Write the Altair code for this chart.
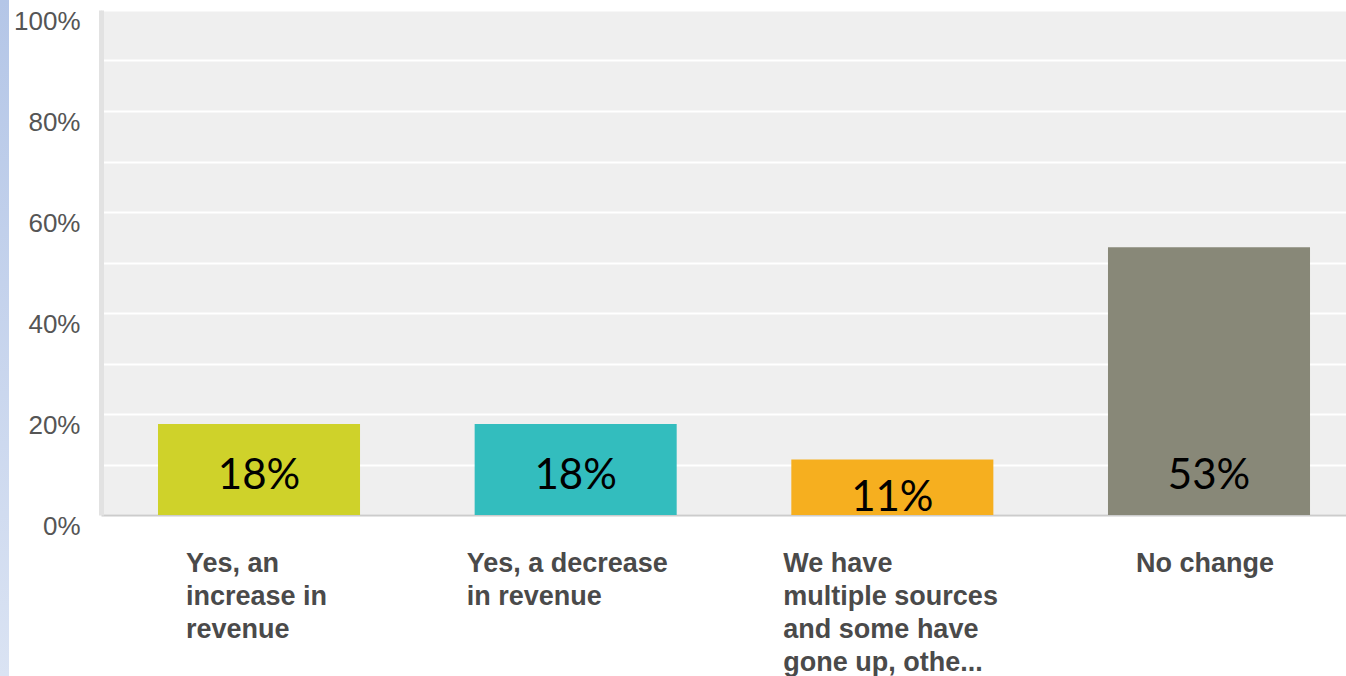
import altair as alt
import pandas as pd

categories = [
    "Yes, an increase in revenue",
    "Yes, a decrease in revenue",
    "We have multiple sources and some have gone up, othe...",
    "No change",
]
label_lines = [
    ["Yes, an", "increase in", "revenue"],
    ["Yes, a decrease", "in revenue"],
    ["We have", "multiple sources", "and some have", "gone up, othe..."],
    ["No change"],
]
values = [18, 18, 11, 53]
value_labels = ["18%", "18%", "11%", "53%"]
colors = ["#CFD22A", "#33BDBE", "#F6AF1F", "#888878"]

df = pd.DataFrame({"cat": categories, "val": values, "lab": value_labels})

W, H = 1245, 505

mapping = "{" + ",".join(
    "'" + c.replace("'", "\\'") + "':[" + ",".join("'" + l + "'" for l in ls) + "]"
    for c, ls in zip(categories, label_lines)
) + "}"
label_expr = f"{mapping}[datum.label]"

wide = [categories[1], categories[2]]
wide_test = "indexof([" + ",".join("'" + c + "'" for c in wide) + "], datum.value) >= 0"

x_enc = alt.X(
    "cat:N",
    sort=categories,
    title=None,
    scale=alt.Scale(paddingInner=0.362, paddingOuter=0.1468, align=0.613),
    axis=alt.Axis(
        labelExpr=label_expr,
        labelAngle=0,
        labelAlign="left",
        labelBaseline="top",
        labelOffset={"condition": {"test": wide_test, "value": -109}, "value": -73},
        labelPadding=35,
        labelLineHeight=33,
        labelFont="Liberation Sans",
        labelFontSize=27,
        labelFontWeight="bold",
        labelColor="#4a4a4a",
        labelLimit=500,
        labelOverlap=False,
        ticks=False,
        domainColor="#cccccc",
        domainWidth=2,
        grid=False,
    ),
)

y_enc = alt.Y(
    "val:Q",
    title=None,
    scale=alt.Scale(domain=[0, 100], nice=False),
    axis=alt.Axis(
        values=list(range(0, 101, 10)),
        labelExpr="datum.value % 20 == 0 ? datum.value + '%' : ''",
        labelFont="Liberation Sans",
        labelFontSize=26,
        labelColor="#555555",
        labelPadding=21,
        labelOffset=11,
        ticks=False,
        domainColor="#e2e2e2",
        domainWidth=5,
        gridColor="#ffffff",
        gridWidth=2,
    ),
)

bars = alt.Chart(df).mark_bar().encode(
    x=x_enc,
    y=y_enc,
    color=alt.Color("cat:N", sort=categories,
                    scale=alt.Scale(domain=categories, range=colors), legend=None),
)

text_main = alt.Chart(df).transform_filter(
    alt.datum.cat != categories[2]
).mark_text(font="Lato", fontSize=42, color="#000000", baseline="middle", dy=-39).encode(
    x=alt.X("cat:N", sort=categories),
    y=alt.datum(0),
    text="lab:N",
)
text_low = alt.Chart(df).transform_filter(
    alt.datum.cat == categories[2]
).mark_text(font="Lato", fontSize=42, color="#000000", baseline="middle", dy=-17).encode(
    x=alt.X("cat:N", sort=categories),
    y=alt.datum(0),
    text="lab:N",
)

strip = alt.Chart(alt.Data(values=[{}])).mark_rect(
    clip=False,
    color=alt.Gradient(
        gradient="linear",
        stops=[alt.GradientStop(color="#B4C6E7", offset=0),
               alt.GradientStop(color="#DAE3F3", offset=1)],
        x1=0, x2=0, y1=0, y2=1,
    ),
).encode(
    x=alt.value(-101), x2=alt.value(-92), y=alt.value(-10), y2=alt.value(H + 161)
)

chart = alt.layer(strip, bars, text_main, text_low).properties(
    width=W,
    height=H,
    autosize=alt.AutoSizeParams(type="none"),
    padding={"left": 101, "top": 10, "right": 0, "bottom": 161},
    background="#ffffff",
).configure_view(fill="#efefef", stroke=None)

chart.save("out.html", embed_options={"renderer": "svg", "actions": False})
